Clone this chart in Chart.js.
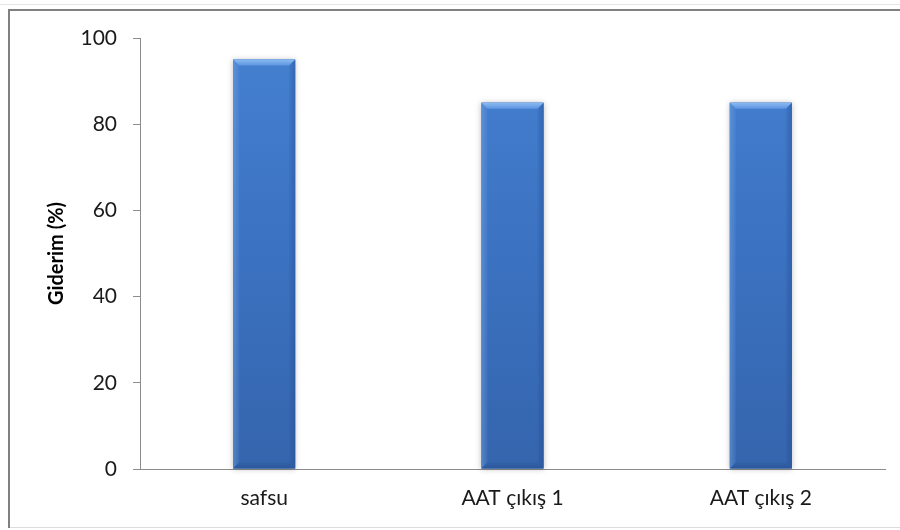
<!DOCTYPE html>
<html>
<head>
<meta charset="utf-8">
<script src="https://cdn.jsdelivr.net/npm/chart.js@4.4.0/dist/chart.umd.min.js"></script>
<style>
  html, body { margin: 0; padding: 0; background: #ffffff; }
  #wrap { width: 900px; height: 530px; position: relative; }
</style>
</head>
<body>
<div id="wrap"><canvas id="c" width="900" height="530"></canvas></div>
<script>
// Removal efficiency per sample
const categories = ['safsu', 'AAT çıkış 1', 'AAT çıkış 2'];
const removal = [95, 85, 85];
const yTicks = [0, 20, 40, 60, 80, 100];

const FONT = 'Lato, "Open Sans", "Liberation Sans", sans-serif';

// Frame around the chart: dark top/left edges, light bottom edge
const framePlugin = {
  id: 'frame',
  beforeDraw(chart) {
    const ctx = chart.ctx;
    ctx.save();
    ctx.fillStyle = '#ffffff';
    ctx.fillRect(0, 0, chart.width, chart.height);
    ctx.strokeStyle = '#e6e6e6';
    ctx.lineWidth = 1;
    ctx.beginPath();
    ctx.moveTo(0, 4.5); ctx.lineTo(chart.width, 4.5);
    ctx.stroke();
    ctx.strokeStyle = '#dcdcdc';
    ctx.beginPath();
    ctx.moveTo(10, 527.5); ctx.lineTo(chart.width, 527.5);
    ctx.stroke();
    ctx.strokeStyle = '#808080';
    ctx.lineWidth = 2;
    ctx.beginPath();
    ctx.moveTo(9, 528); ctx.lineTo(9, 10); ctx.lineTo(chart.width, 10);
    ctx.stroke();
    ctx.restore();
  }
};

// Soft shadow behind each bar
const shadowPlugin = {
  id: 'barShadow',
  beforeDatasetsDraw(chart) {
    const ctx = chart.ctx;
    const meta = chart.getDatasetMeta(0);
    meta.data.forEach(bar => {
      const { x, y, base, width } = bar.getProps(['x', 'y', 'base', 'width'], true);
      ctx.save();
      ctx.shadowColor = 'rgba(0,0,0,0.25)';
      ctx.shadowBlur = 6;
      ctx.fillStyle = '#3a6fbc';
      ctx.fillRect(x - width / 2, y, width, base - y);
      ctx.restore();
    });
  }
};

// Bevelled look for each bar, using the bar element geometry
const bevelPlugin = {
  id: 'bevel',
  afterDatasetsDraw(chart) {
    const ctx = chart.ctx;
    const meta = chart.getDatasetMeta(0);
    const b = 6;
    meta.data.forEach(bar => {
      const { x, y, base, width } = bar.getProps(['x', 'y', 'base', 'width'], true);
      const l = x - width / 2, r = x + width / 2, t = y, btm = base;
      ctx.save();
      // top facet
      const tg = ctx.createLinearGradient(0, t, 0, t + b);
      tg.addColorStop(0, '#8dbbf3');
      tg.addColorStop(1, '#5d95df');
      ctx.fillStyle = tg;
      ctx.beginPath();
      ctx.moveTo(l, t); ctx.lineTo(r, t); ctx.lineTo(r - b, t + b); ctx.lineTo(l + b, t + b);
      ctx.closePath(); ctx.fill();
      // left facet
      const lg = ctx.createLinearGradient(l, 0, l + b, 0);
      lg.addColorStop(0, 'rgba(120,170,235,0.45)');
      lg.addColorStop(1, 'rgba(120,170,235,0.1)');
      ctx.fillStyle = lg;
      ctx.beginPath();
      ctx.moveTo(l, t); ctx.lineTo(l + b, t + b); ctx.lineTo(l + b, btm - b); ctx.lineTo(l, btm);
      ctx.closePath(); ctx.fill();
      // right facet
      const rg = ctx.createLinearGradient(r - b, 0, r, 0);
      rg.addColorStop(0, 'rgba(30,70,140,0.1)');
      rg.addColorStop(1, 'rgba(30,70,140,0.4)');
      ctx.fillStyle = rg;
      ctx.beginPath();
      ctx.moveTo(r, t); ctx.lineTo(r - b, t + b); ctx.lineTo(r - b, btm - b); ctx.lineTo(r, btm);
      ctx.closePath(); ctx.fill();
      // bottom facet
      const bg = ctx.createLinearGradient(0, btm - b, 0, btm);
      bg.addColorStop(0, 'rgba(25,60,120,0.1)');
      bg.addColorStop(1, 'rgba(25,60,120,0.35)');
      ctx.fillStyle = bg;
      ctx.beginPath();
      ctx.moveTo(l, btm); ctx.lineTo(l + b, btm - b); ctx.lineTo(r - b, btm - b); ctx.lineTo(r, btm);
      ctx.closePath(); ctx.fill();
      ctx.restore();
    });
  }
};

function barFill(context) {
  const chart = context.chart;
  const area = chart.chartArea;
  if (!area) return '#3c72c2';
  const g = chart.ctx.createLinearGradient(0, area.top, 0, area.bottom);
  g.addColorStop(0, '#4580d0');
  g.addColorStop(0.5, '#3b72c1');
  g.addColorStop(1, '#3565ad');
  return g;
}

new Chart(document.getElementById('c'), {
  type: 'bar',
  data: {
    labels: categories,
    datasets: [{
      data: removal,
      backgroundColor: barFill,
      borderWidth: 0,
      categoryPercentage: 1,
      barPercentage: 0.25
    }]
  },
  options: {
    responsive: false,
    animation: false,
    events: [],
    layout: { padding: { top: 38, right: 15, bottom: 0, left: 0 } },
    plugins: { legend: { display: false }, tooltip: { enabled: false } },
    scales: {
      x: {
        grid: { display: false },
        border: { display: true, color: '#8c8c8c', width: 1 },
        ticks: { color: '#1a1a1a', font: { family: FONT, size: 21 }, padding: 9 },
        afterFit(scale) { scale.height = 61; }
      },
      y: {
        min: 0, max: 100,
        afterBuildTicks(scale) { scale.ticks = yTicks.map(v => ({ value: v })); },
        grid: { display: true, drawOnChartArea: false, drawTicks: true, tickLength: 7, color: '#8c8c8c' },
        border: { display: true, color: '#8c8c8c', width: 1 },
        ticks: { color: '#1a1a1a', font: { family: FONT, size: 21 }, padding: 16 },
        title: {
          display: true,
          text: 'Giderim (%)',
          color: '#000000',
          font: { family: FONT, size: 20, weight: 'bold' },
          padding: { top: 45, bottom: 0 }
        },
        afterFit(scale) { scale.width = 140; }
      }
    }
  },
  plugins: [framePlugin, shadowPlugin, bevelPlugin]
});
</script>
</body>
</html>
